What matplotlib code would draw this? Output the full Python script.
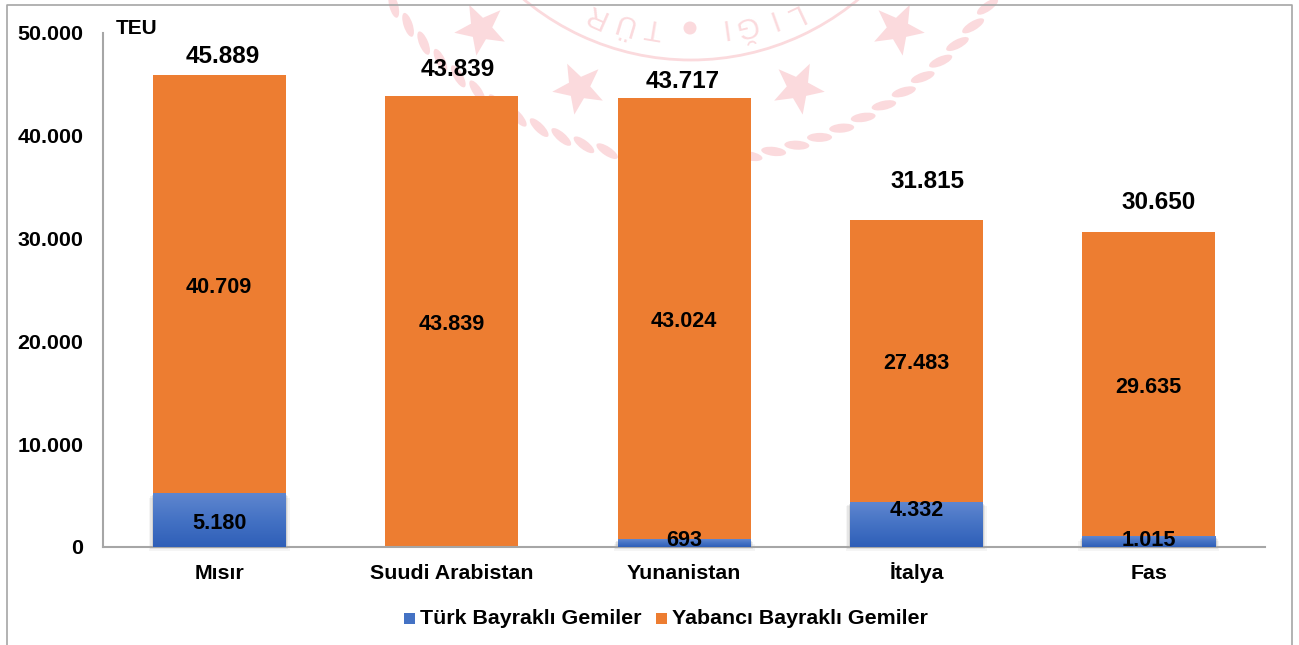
import numpy as np
import matplotlib
matplotlib.use("Agg")
import matplotlib.pyplot as plt
from matplotlib.patches import Rectangle, Polygon, Ellipse, Arc
from matplotlib.colors import LinearSegmentedColormap

categories = ["Mısır", "Suudi Arabistan", "Yunanistan", "İtalya", "Fas"]
turk = [5180, 0, 693, 4332, 1015]
yabanci = [40709, 43839, 43024, 27483, 29635]
totals = [45889, 43839, 43717, 31815, 30650]
turk_labels = ["5.180", None, "693", "4.332", "1.015"]
yabanci_labels = ["40.709", "43.839", "43.024", "27.483", "29.635"]
total_labels = ["45.889", "43.839", "43.717", "31.815", "30.650"]
yticks = [0, 10000, 20000, 30000, 40000, 50000]
ytick_labels = ["0", "10.000", "20.000", "30.000", "40.000", "50.000"]

W, H = 1299, 645
plt.rcParams["font.family"] = ["Liberation Sans", "DejaVu Sans"]
fig = plt.figure(figsize=(W / 100, H / 100), dpi=100, facecolor="white")

# full-figure pixel overlay for frame and watermark
bg = fig.add_axes([0, 0, 1, 1], zorder=0)
bg.set_xlim(0, W); bg.set_ylim(H, 0); bg.axis("off")
pink = "#fbdadd"

def star(cx, cy, r, rot):
    a = np.deg2rad(np.arange(10) * 36 + rot)
    rr = np.where(np.arange(10) % 2 == 0, r, r * 0.42)
    return np.c_[cx + rr * np.sin(a), cy - rr * np.cos(a)]

for cx, cy, r, rot in [(481, 29, 27, 190), (579, 88, 27, 190), (798, 88, 27, 170), (898, 29, 27, 170)]:
    bg.add_patch(Polygon(star(cx, cy, r, rot), closed=True, fc=pink, ec="none"))

cx0, cy0, R = 691, -201, 362
for ang in np.arange(35, 146, 3.8):
    t = np.deg2rad(ang)
    bg.add_patch(Ellipse((cx0 + R * np.cos(t), cy0 + R * np.sin(t)), 25, 9,
                         angle=ang + 90 + 20, fc=pink, ec="none"))
bg.add_patch(Arc((cx0, cy0), 522, 522, theta1=40, theta2=140, ec=pink, lw=2))
bg.add_patch(Ellipse((690, 28), 13, 13, fc=pink, ec="none"))
for ch, x, y in [("R", 595, 15), ("Ü", 623, 23), ("T", 653, 27),
                 ("I", 723, 27), ("Ğ", 745, 25), ("I", 770, 19), ("L", 793, 15)]:
    phi = np.degrees(np.arctan2(cx0 - x, y - cy0))
    bg.text(x, y, ch, color=pink, fontsize=21, rotation=180 - phi, rotation_mode="anchor",
            ha="center", va="center")

# chart frame
bg.plot([7, 7, 1292, 1292], [H, 5, 5, H], color="#a6a6a6", lw=1.2, solid_capstyle="butt")

left, right, top, bottom = 103, 1265, 33, 547
ax = fig.add_axes([left / W, 1 - bottom / H, (right - left) / W, (bottom - top) / H], zorder=1)
ax.patch.set_alpha(0)
x = np.arange(len(categories))
width = 133 / 232.4
ax.set_xlim(-0.5, 4.5)
ax.set_ylim(0, 50000)

blue = LinearSegmentedColormap.from_list("b", ["#2f5fb8", "#4472c4", "#5f86cf"])
ax.bar(x, yabanci, width, bottom=turk, color="#ed7d31", zorder=2)
for xi, t in zip(x, turk):
    if t <= 0:
        continue
    # soft shadow on sides and below the blue segment
    for k, al in zip((4, 2.5, 1.2), (0.04, 0.06, 0.09)):
        ax.add_patch(Rectangle((xi - width / 2 - k / 232.4, -k * 97), width + 2 * k / 232.4, t,
                               fc="black", alpha=al, ec="none", zorder=2.1, clip_on=False))
    ax.imshow(np.linspace(0, 1, 64).reshape(-1, 1), cmap=blue, aspect="auto", origin="lower",
              extent=(xi - width / 2, xi + width / 2, 0, t), zorder=3.5)
ax.set_xlim(-0.5, 4.5)
ax.set_ylim(0, 50000)

for s in ("top", "right"):
    ax.spines[s].set_visible(False)
for s in ("left", "bottom"):
    ax.spines[s].set_color("#a6a6a6")
    ax.spines[s].set_linewidth(1.5)
    ax.spines[s].set_zorder(3)

ax.set_xticks(x, categories, fontsize=15.4, fontweight="bold", color="#000000")
ax.set_yticks(yticks, ytick_labels, fontsize=15.4, fontweight="bold", color="#000000")
ax.tick_params(axis="both", length=0)
ax.tick_params(axis="x", pad=23.3)
ax.tick_params(axis="y", pad=14)
for lab in ax.get_xticklabels():
    lab.set_verticalalignment("baseline")

fs = 15.6
turk_pos = [2300, None, 600, 3550, 640]
for xi, lab, pos in zip(x, turk_labels, turk_pos):
    if lab:
        ax.text(xi, pos, lab, ha="center", va="center", fontsize=fs, fontweight="bold", zorder=5)
for xi, t, y_, lab in zip(x, turk, yabanci, yabanci_labels):
    ax.text(xi, t + y_ / 2 - 270, lab, ha="center", va="center", fontsize=fs, fontweight="bold", zorder=5)
tot_off = [1800, 2600, 1550, 3750, 2830]
tot_dx = [4, 6.5, -1.5, 11, 9.5]
for xi, v, lab, off, dx in zip(x, totals, total_labels, tot_off, tot_dx):
    ax.text(xi + dx / 232.4, v + off, lab, ha="center", va="center", fontsize=17.5, fontweight="bold", zorder=5)

fig.text(136.5 / W, 1 - 28 / H, "TEU", ha="center", va="center", fontsize=15, fontweight="bold", zorder=5)

# legend
ov = fig.add_axes([0, 0, 1, 1], zorder=2)
ov.set_xlim(0, W); ov.set_ylim(H, 0); ov.axis("off"); ov.patch.set_alpha(0)
ov.add_patch(Rectangle((404, 613), 11, 11, fc="#4472c4", ec="none"))
ov.add_patch(Rectangle((656, 613), 11, 11, fc="#ed7d31", ec="none"))
ov.text(420, 618.5, "Türk Bayraklı Gemiler", fontsize=15.4, fontweight="bold", va="center", ha="left")
ov.text(672, 618.5, "Yabancı Bayraklı Gemiler", fontsize=15.4, fontweight="bold", va="center", ha="left")

fig.savefig("out.png", dpi=100, facecolor="white")
